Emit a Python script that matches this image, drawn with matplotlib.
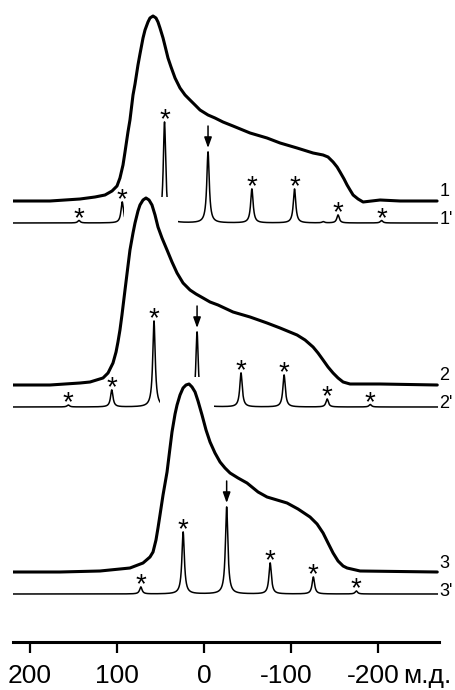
import matplotlib
matplotlib.use('Agg')
import matplotlib.pyplot as plt
from matplotlib.patches import Rectangle
from matplotlib.transforms import ScaledTranslation
import numpy as np

plt.rcParams['font.family'] = ['Liberation Sans', 'DejaVu Sans']
plt.rcParams['axes.unicode_minus'] = False

# static (broad) spectra: chemical shift (ppm) and intensity (a.u.)
static1_ppm = [219.5, 177.0, 142.5, 125.3, 113.8, 105.7, 100.0, 96.6, 93.1, 90.8, 87.4, 85.1, 81.6,
               79.3, 75.9, 73.6, 70.1, 67.8, 64.4, 62.1, 58.6, 55.2, 52.9, 50.6, 47.1, 44.8, 41.4,
               37.9, 33.3, 27.6, 21.8, 16.1, 10.3, 4.6, -4.6, -12.6, -21.8, -33.3, -52.9, -72.4,
               -87.4, -106.9, -125.3, -136.8, -142.5, -148.3, -152.9, -156.3, -160.9, -164.4,
               -167.8, -171.3, -177.0, -182.8, -202.3, -225.3, -267.8]
static1_int = [0, 0, 2, 4, 6, 10, 15, 23, 36, 49, 69, 81, 106,
               117, 136, 147, 163, 171, 179, 183, 185, 183, 179, 173, 163, 155, 143,
               134, 123, 113, 106, 101, 96, 91, 86, 83, 79, 75, 68, 63,
               58, 53, 48, 46, 44, 39, 34, 29, 22, 16,
               11, 6, 2, -1, 1, 0, 0]

static2_ppm = [219.5, 177.0, 142.5, 131.0, 116.1, 110.3, 104.6, 101.1, 98.9, 96.6, 94.3, 90.8, 87.4,
               85.1, 81.6, 79.3, 75.9, 73.6, 70.1, 66.7, 63.2, 59.8, 56.3, 52.9, 48.3, 42.5, 36.8,
               31.0, 24.1, 16.1, 9.2, 1.1, -6.9, -16.1, -33.3, -52.9, -72.4, -87.4, -106.9,
               -116.1, -125.3, -131.0, -136.8, -142.5, -148.3, -154.0, -159.8, -167.8, -175.9,
               -202.3, -268.0]
static2_int = [0, 0, 2, 3, 7, 12, 22, 33, 43, 55, 70, 95, 119,
               135, 152, 162, 174, 180, 185, 187, 185, 180, 170, 158, 147, 135, 123,
               112, 102, 95, 91, 87, 83, 80, 73, 68, 62, 57, 50,
               45, 38, 32, 25, 18, 12, 7, 3, 1, 1,
               1, 0]

static3_ppm = [219.5, 165.5, 119.5, 85.1, 70.1, 62.1, 58.6, 55.2, 52.9, 50.6, 47.1, 42.5, 39.1,
               36.8, 33.3, 31.0, 27.6, 24.1, 20.7, 17.2, 13.8, 10.3, 6.9, 2.3, -2.3, -6.9, -12.6,
               -18.4, -24.1, -29.9, -39.1, -49.4, -62.1, -72.4, -83.9, -95.4, -108.0, -121.8,
               -129.9, -136.8, -142.5, -148.3, -154.0, -159.8, -164.4, -179.3, -268.0]
static3_int = [0, 0, 1, 4, 9, 15, 20, 32, 44, 57, 77, 100, 124,
               140, 158, 167, 177, 184, 187, 188, 185, 180, 171, 157, 142, 130, 119,
               110, 104, 99, 94, 89, 80, 75, 72, 69, 63, 55,
               48, 39, 29, 19, 11, 6, 4, 1, 0]

# MAS spectra: peak positions (ppm), heights (a.u.), marks ('*' sideband, 'iso' isotropic)
mas1_pos = [143.7, 94.0, 45.4, -4.6, -55.0, -104.0, -137.0, -154.0, -204.0]
mas1_h = [2.5, 21, 101, 71, 34, 34, 1.2, 8, 2.5]
mas1_mark = ['*', '*', '*', 'iso', '*', '*', '', '*', '*']

mas2_pos = [156.0, 106.0, 57.5, 8.0, -42.5, -92.0, -141.5, -191.0]
mas2_h = [2, 17, 86, 75, 34, 32, 8, 2.5]
mas2_mark = ['*', '*', '*', 'iso', '*', '*', '*', '*']

mas3_pos = [72.6, 24.0, -26.0, -76.0, -125.6, -175.0]
mas3_h = [7, 62, 87, 31, 17, 3]
mas3_mark = ['*', '*', 'iso', '*', '*', '*']

ticks = [200, 100, 0, -100, -200]
labels = ['1', "1'", '2', "2'", '3', "3'"]

# layout: vertical offsets of each trace, white masks where traces overlap
offsets = {'1': 441, "1'": 419, '2': 257, "2'": 235, '3': 70, "3'": 48}
masks = [(30.0, 91.5, 410, 445), (-11.5, 50.6, 228, 265)]
hw = 1.7  # half width of MAS lines, ppm

fig = plt.figure(figsize=(4.55, 6.9), dpi=100)
ax = fig.add_axes([13 / 455, 48 / 690, 426 / 455, 642 / 690])

grid = np.linspace(219.5, -268, 6000)

def mas_trace(pos, h):
    y = np.zeros_like(grid)
    for p, hi in zip(pos, h):
        y += hi * hw ** 2 / ((grid - p) ** 2 + hw ** 2)
    return y

statics = [(static1_ppm, static1_int, '1'), (static2_ppm, static2_int, '2'),
           (static3_ppm, static3_int, '3')]
for ppm, inten, lab in statics:
    ax.plot(ppm, np.array(inten) + offsets[lab], color='k', lw=2.2, zorder=4,
            solid_joinstyle='round', solid_capstyle='round')

mas = [(mas1_pos, mas1_h, mas1_mark, "1'"), (mas2_pos, mas2_h, mas2_mark, "2'"),
       (mas3_pos, mas3_h, mas3_mark, "3'")]
for pos, h, mark, lab in mas:
    base = offsets[lab]
    ax.plot(grid, mas_trace(pos, h) + base, color='k', lw=1.1, zorder=2)
    for p, hi, m in zip(pos, h, mark):
        top = base + hi
        if m == '*':
            ax.text(p, top - 5.5, '*', fontsize=20, ha='center', va='baseline', zorder=5)
        elif m == 'iso':
            ax.annotate('', xy=(p, top + 4), xytext=(p, top + 26),
                        arrowprops=dict(arrowstyle='-|>,head_length=0.7,head_width=0.25',
                                        color='k', lw=1.1, shrinkA=0, shrinkB=0,
                                        mutation_scale=9), zorder=5)

for x0, x1, y0, y1 in masks:
    ax.add_patch(Rectangle((x0, y0), x1 - x0, y1 - y0, facecolor='white',
                           edgecolor='none', zorder=3))

for lab in labels:
    dy = 3 if "'" in lab else 9
    ax.text(-270.5, offsets[lab] + dy, lab, fontsize=13, ha='left', va='center')

ax.set_xlim(219.5, -270)
ax.set_ylim(0, 642)
ax.set_xticks(ticks)
ax.set_xticklabels([str(t) for t in ticks])
ax.tick_params(axis='x', direction='out', length=8, width=1.6, labelsize=19, pad=8)
# digits centred on the tick, the minus sign hangs to the left
for lbl, t in zip(ax.get_xticklabels(), ticks):
    if t < 0:
        lbl.set_transform(lbl.get_transform() + ScaledTranslation(-0.05, 0, fig.dpi_scale_trans))
ax.set_yticks([])
for s in ['left', 'right', 'top']:
    ax.spines[s].set_visible(False)
ax.spines['bottom'].set_linewidth(2.2)
ax.patch.set_alpha(0)

fig.text(403 / 455, 7 / 690, 'м.д.', fontsize=19, ha='left', va='baseline')

fig.savefig('out.png', dpi=100)
